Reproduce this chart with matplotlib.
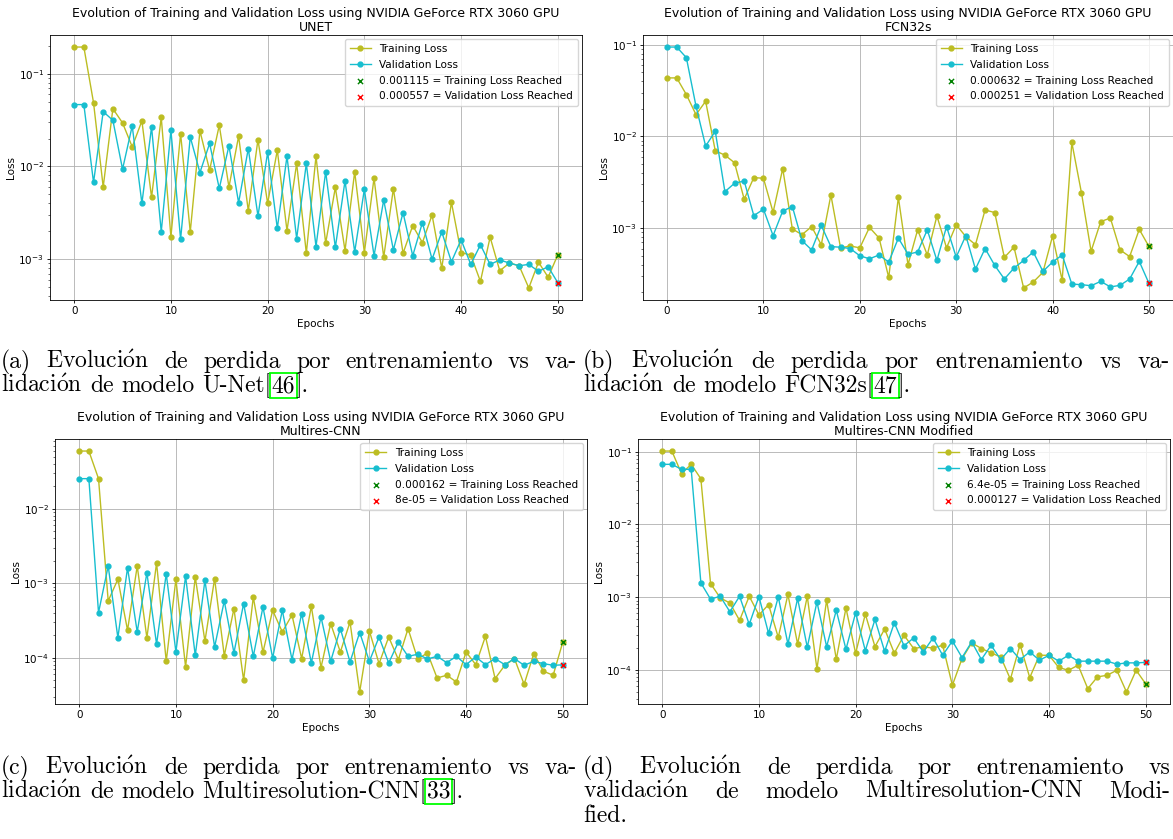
import matplotlib
matplotlib.use("Agg")
import matplotlib.pyplot as plt
import numpy as np

W, H = 1173, 839
epochs = np.arange(51)

unet_train = [0.194, 0.194, 0.0488, 0.0060, 0.042, 0.0295, 0.0163, 0.031, 0.00465, 0.034,
              0.00174, 0.0226, 0.00197, 0.0242, 0.00914, 0.0278, 0.0060, 0.0212, 0.00333, 0.0195,
              0.0040, 0.0150, 0.00203, 0.0108, 0.00116, 0.0129, 0.00149, 0.00594, 0.00124, 0.00878,
              0.00118, 0.0075, 0.00105, 0.00576, 0.00116, 0.0023, 0.00151, 0.0030, 0.0008, 0.0041,
              0.00118, 0.00111, 0.000576, 0.00173, 0.00075, 0.00091, 0.00085, 0.00049, 0.00093, 0.00064,
              0.001115]
unet_val = [0.0465, 0.0465, 0.00673, 0.039, 0.0315, 0.00935, 0.0274, 0.0040, 0.0267, 0.00197,
            0.0246, 0.00164, 0.0208, 0.0086, 0.0177, 0.0058, 0.0167, 0.00406, 0.0156, 0.00292,
            0.0142, 0.00215, 0.0129, 0.00167, 0.0108, 0.00137, 0.00878, 0.00134, 0.0070, 0.0012,
            0.00567, 0.00109, 0.00435, 0.00126, 0.00318, 0.00109, 0.00248, 0.0010, 0.00197, 0.00094,
            0.00162, 0.00088, 0.00143, 0.00088, 0.00098, 0.00091, 0.00085, 0.00088, 0.00074, 0.00083,
            0.000557]

fcn_train = [0.0435, 0.0435, 0.0286, 0.0173, 0.0242, 0.00698, 0.00626, 0.00517, 0.00207, 0.00356,
             0.0035, 0.00149, 0.00446, 0.00098, 0.00085, 0.00104, 0.00066, 0.0023, 0.00061, 0.00064,
             0.00061, 0.00102, 0.00078, 0.00029, 0.00217, 0.0004, 0.00096, 0.00051, 0.00136, 0.00061,
             0.00109, 0.00081, 0.00066, 0.00158, 0.00148, 0.00048, 0.00062, 0.000223, 0.000259, 0.00033,
             0.00082, 0.00027, 0.0086, 0.00243, 0.00056, 0.00118, 0.00129, 0.00058, 0.00049, 0.00097,
             0.000632]
fcn_val = [0.0944, 0.0944, 0.0723, 0.0214, 0.00785, 0.0114, 0.0025, 0.00309, 0.00327, 0.00137,
           0.00161, 0.00083, 0.00154, 0.00172, 0.00073, 0.00058, 0.00107, 0.00063, 0.00062, 0.00060,
           0.0005, 0.000464, 0.00051, 0.000427, 0.00078, 0.00052, 0.00055, 0.00096, 0.000445, 0.00104,
           0.000484, 0.00083, 0.000358, 0.0006, 0.000393, 0.000279, 0.000367, 0.000445, 0.00055, 0.000338,
           0.000427, 0.00051, 0.000246, 0.000242, 0.000236, 0.000263, 0.000229, 0.000238, 0.000279, 0.000434,
           0.000251]

mres_train = [0.0594, 0.0594, 0.0253, 0.000577, 0.00113, 0.000233, 0.0017, 0.000184, 0.00187, 0.0000893,
              0.00113, 0.000075, 0.00121, 0.000166, 0.00115, 0.000106, 0.000455, 0.0000497, 0.00065, 0.000118,
              0.000432, 0.000221, 0.000374, 0.000097, 0.000489, 0.0000735, 0.000286, 0.000119, 0.000301, 0.0000346,
              0.000228, 0.000083, 0.000189, 0.000094, 0.000245, 0.000095, 0.000116, 0.0000533, 0.000058, 0.0000471,
              0.000119, 0.0000805, 0.000193, 0.0000523, 0.0000789, 0.000097, 0.0000438, 0.000113, 0.0000656, 0.000058,
              0.000162]
mres_val = [0.0253, 0.0253, 0.000402, 0.0017, 0.000185, 0.00161, 0.000221, 0.00138, 0.000151, 0.00134,
            0.000119, 0.00124, 0.000107, 0.00109, 0.000139, 0.000577, 0.000116, 0.000531, 0.000104, 0.000479,
            0.000099, 0.000432, 0.000094, 0.00039, 0.0000848, 0.000352, 0.0000893, 0.000245, 0.0000875, 0.000217,
            0.0000893, 0.000189, 0.0000848, 0.000162, 0.000104, 0.000111, 0.000096, 0.000104, 0.0000857, 0.000104,
            0.0000805, 0.000102, 0.0000805, 0.000097, 0.0000805, 0.000097, 0.0000789, 0.0000893, 0.000083, 0.0000789,
            0.00008]

mod_train = [0.102, 0.102, 0.0499, 0.067, 0.0424, 0.00154, 0.00098, 0.00083, 0.00048, 0.00103,
             0.00057, 0.00079, 0.00028, 0.00109, 0.000227, 0.00103, 0.000103, 0.00091, 0.00014, 0.00071,
             0.000169, 0.000585, 0.000209, 0.000365, 0.00017, 0.0003, 0.000197, 0.000207, 0.0002, 0.000218,
             0.0000615, 0.000143, 0.000235, 0.000197, 0.000171, 0.000151, 0.0000745, 0.000223, 0.0000784, 0.000159,
             0.000159, 0.000108, 0.0000989, 0.000116, 0.0000553, 0.0000802, 0.0000845, 0.0000989, 0.0000498, 0.0000989,
             0.000064]
mod_val = [0.067, 0.067, 0.0572, 0.0572, 0.00157, 0.00094, 0.00103, 0.00063, 0.00103, 0.000423,
           0.00102, 0.000318, 0.00101, 0.000227, 0.00096, 0.000205, 0.00086, 0.000209, 0.00066, 0.000192,
           0.00061, 0.000184, 0.000494, 0.00018, 0.000445, 0.000215, 0.000275, 0.000177, 0.000275, 0.000159,
           0.00025, 0.000148, 0.000243, 0.000139, 0.000218, 0.000139, 0.000197, 0.000139, 0.000177, 0.000136,
           0.000159, 0.000132, 0.000159, 0.000132, 0.000132, 0.000132, 0.000132, 0.00012, 0.000125, 0.000125,
           0.000127]

TITLE = "Evolution of Training and Validation Loss using NVIDIA GeForce RTX 3060 GPU"
SERIF = ['cmr10', 'DejaVu Serif']
CAP_FS = 17
O_ACUTE = r'$\acute{\mathrm{o}}$'


def px_rect(left, top, right, bottom):
    return [left / W, 1 - bottom / H, (right - left) / W, (bottom - top) / H]


def loss_panel(fig, rect, name, train, val):
    ax = fig.add_axes(rect)
    ax.plot(epochs, train, color='tab:olive', marker='o', ms=3.5, lw=1, label='Training Loss')
    ax.plot(epochs, val, color='tab:cyan', marker='o', ms=3.5, lw=1, label='Validation Loss')
    ax.scatter(epochs[-1], train[-1], marker='x', color='green', s=14, lw=1, zorder=3,
               label=f'{train[-1]} = Training Loss Reached')
    ax.scatter(epochs[-1], val[-1], marker='x', color='red', s=14, lw=1, zorder=3,
               label=f'{val[-1]} = Validation Loss Reached')
    ax.set_yscale('log')
    ax.set_title(TITLE + '\n' + name, fontsize=9, pad=3, linespacing=1.05)
    ax.set_xlabel('Epochs', fontsize=7.5, labelpad=2)
    ax.set_ylabel('Loss', fontsize=7.5, labelpad=2)
    ax.tick_params(labelsize=7.5, length=2.4, width=0.6, pad=2)
    ax.tick_params(which='minor', length=1.4, width=0.4)
    for s in ax.spines.values():
        s.set_linewidth(0.6)
    ax.grid(True, lw=0.6)
    ax.legend(loc='upper right', fontsize=7.6, borderpad=0.45, labelspacing=0.55,
              handlelength=2.0, borderaxespad=0.4)
    return ax


def caption_line(fig, x0, x1, y, words, justify=True):
    # place words one by one so the line can be stretched like LaTeX justified text
    r = fig.canvas.get_renderer()
    items = []
    for word in words:
        segs = [word] if isinstance(word, str) else word
        parts = []
        for seg in segs:
            boxed = (not isinstance(word, str)) and seg.isdigit()
            kw = {}
            if boxed:
                kw['bbox'] = dict(boxstyle='square,pad=0.06', fc='none', ec='#00ff00', lw=1.3)
            t = fig.text(0, 1 - y / H, seg.replace('ó', O_ACUTE), fontsize=CAP_FS, family=SERIF,
                         math_fontfamily='cm', va='baseline', **kw)
            parts.append((t, t.get_window_extent(r).width))
        items.append(parts)
    widths = [sum(w for _, w in p) for p in items]
    if justify:
        gap = (x1 - x0 - sum(widths)) / (len(words) - 1)
    else:
        gap = CAP_FS * 100 / 72 * 0.333
    x = x0
    for parts in items:
        for t, w in parts:
            t.set_x(x / W)
            x += w
        x += gap


fig = plt.figure(figsize=(W / 100, H / 100), dpi=100)

loss_panel(fig, px_rect(50, 35, 582, 300), 'UNET', unet_train, unet_val)
loss_panel(fig, px_rect(643, 35, 1173, 300), 'FCN32s', fcn_train, fcn_val)
loss_panel(fig, px_rect(55, 439, 587, 704), 'Multires-CNN', mres_train, mres_val)
loss_panel(fig, px_rect(638, 439, 1170, 704), 'Multires-CNN Modified', mod_train, mod_val)

first = "Evolución de perdida por entrenamiento vs va-".split()
caption_line(fig, 1, 577, 368, ['(a)'] + first)
caption_line(fig, 1, 577, 392, ['lidación', 'de', 'modelo', ['U-Net[', '46', '].']], justify=False)
caption_line(fig, 583, 1170, 368, ['(b)'] + first)
caption_line(fig, 583, 1170, 392, ['lidación', 'de', 'modelo', ['FCN32s[', '47', '].']], justify=False)
caption_line(fig, 1, 577, 774, ['(c)'] + first)
caption_line(fig, 1, 577, 798, ['lidación', 'de', 'modelo', ['Multiresolution-CNN[', '33', '].']],
             justify=False)
caption_line(fig, 583, 1170, 774, "(d) Evolución de perdida por entrenamiento vs".split())
caption_line(fig, 583, 1170, 798, "validación de modelo Multiresolution-CNN Modi-".split())
caption_line(fig, 583, 1170, 822, ['fied.'], justify=False)

fig.savefig('out.png', dpi=100)
